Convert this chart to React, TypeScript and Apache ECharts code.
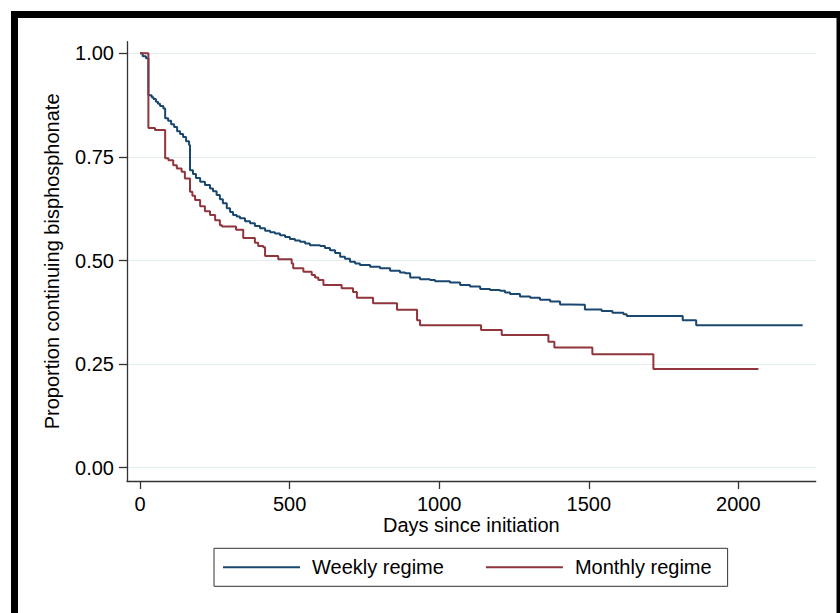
import React, { useEffect, useRef } from "react";
import * as echarts from "echarts";

// Kaplan-Meier step points (day at which value starts, proportion)
const weeklyDays = [0, 9, 20, 28, 39, 45, 53, 60, 67, 78, 84, 94, 104, 114, 124, 134, 144, 154, 164, 167, 177, 187, 201, 217, 234, 244, 256, 267, 277, 290, 301, 311, 323, 334, 351, 368, 384, 401, 418, 435, 451, 468, 485, 501, 518, 535, 552, 568, 602, 618, 635, 652, 669, 685, 702, 719, 735, 769, 802, 836, 869, 886, 903, 936, 969, 986, 1036, 1070, 1103, 1137, 1170, 1203, 1220, 1237, 1270, 1304, 1337, 1371, 1404, 1437, 1487, 1543, 1579, 1616, 1627, 1814, 1859, 2215];
const weeklySurv = [1.0, 0.993, 0.988, 0.899, 0.894, 0.89, 0.883, 0.878, 0.873, 0.867, 0.843, 0.837, 0.829, 0.822, 0.812, 0.805, 0.798, 0.788, 0.779, 0.718, 0.709, 0.699, 0.69, 0.682, 0.674, 0.667, 0.658, 0.648, 0.638, 0.626, 0.617, 0.61, 0.606, 0.602, 0.595, 0.59, 0.583, 0.578, 0.572, 0.568, 0.565, 0.561, 0.557, 0.552, 0.548, 0.545, 0.541, 0.537, 0.535, 0.53, 0.525, 0.518, 0.509, 0.504, 0.497, 0.493, 0.489, 0.485, 0.481, 0.475, 0.471, 0.469, 0.459, 0.455, 0.453, 0.45, 0.447, 0.441, 0.437, 0.431, 0.429, 0.427, 0.423, 0.419, 0.413, 0.41, 0.405, 0.401, 0.394, 0.393, 0.382, 0.378, 0.374, 0.37, 0.366, 0.356, 0.344, 0.344];

const monthlyDays = [0, 28, 50, 84, 95, 111, 123, 139, 150, 167, 175, 184, 201, 217, 234, 251, 267, 274, 321, 345, 384, 395, 412, 418, 462, 507, 512, 546, 574, 585, 596, 613, 674, 712, 725, 779, 859, 926, 936, 1140, 1209, 1365, 1385, 1512, 1716, 2067];
const monthlySurv = [1.0, 0.82, 0.815, 0.747, 0.742, 0.73, 0.722, 0.714, 0.698, 0.666, 0.656, 0.646, 0.631, 0.619, 0.61, 0.597, 0.585, 0.582, 0.574, 0.554, 0.543, 0.535, 0.532, 0.511, 0.503, 0.493, 0.481, 0.473, 0.465, 0.459, 0.453, 0.441, 0.433, 0.424, 0.41, 0.397, 0.381, 0.356, 0.344, 0.332, 0.32, 0.304, 0.29, 0.274, 0.238, 0.238];

const xTickValues = [0, 500, 1000, 1500, 2000];
const yTickValues = [0, 0.25, 0.5, 0.75, 1];
const seriesNames = ["Weekly regime", "Monthly regime"];
const xAxisTitle = "Days since initiation";
const yAxisTitle = "Proportion continuing bisphosphonate";

export default function App() {
  const ref = useRef<HTMLDivElement>(null);
  useEffect(() => {
    const chart = echarts.init(ref.current!, null, { renderer: "svg" });
    const font = "'Liberation Sans', Arial, sans-serif";
    const axisColor = "#333333";
    chart.setOption({
      animation: false,
      backgroundColor: "#ffffff",
      textStyle: { fontFamily: font },
      grid: {
        left: 127,
        right: 24.3,
        top: 41.7,
        bottom: 132,
        containLabel: false,
        outerBoundsMode: "none",
      },
      xAxis: {
        type: "value",
        min: -43.5,
        max: 2258.5,
        name: xAxisTitle,
        nameLocation: "middle",
        nameGap: 34,
        nameMoveOverlap: false,
        nameTextStyle: { fontSize: 20, color: "#000", fontFamily: font },
        axisLine: { show: true, onZero: false, lineStyle: { color: axisColor, width: 1.3 } },
        axisTick: { show: true, inside: false, length: 8, customValues: xTickValues, lineStyle: { color: axisColor, width: 1.3 } },
        axisLabel: {
          show: true,
          customValues: xTickValues,
          formatter: (v: number) => String(v),
          margin: 13,
          fontSize: 20,
          color: "#000",
          fontFamily: font,
        },
        splitLine: { show: false },
      },
      yAxis: {
        type: "value",
        min: -0.0321,
        max: 1.028,
        name: yAxisTitle,
        nameLocation: "middle",
        nameGap: 65,
        nameMoveOverlap: false,
        nameTextStyle: { fontSize: 20, color: "#000", fontFamily: font },
        axisLine: { show: true, onZero: false, lineStyle: { color: axisColor, width: 1.3 } },
        axisTick: { show: true, inside: false, length: 8, customValues: yTickValues, lineStyle: { color: axisColor, width: 1.3 } },
        axisLabel: {
          show: true,
          customValues: yTickValues,
          formatter: (v: number) => v.toFixed(2),
          margin: 13,
          fontSize: 20,
          color: "#000",
          fontFamily: font,
        },
        splitLine: { show: true, lineStyle: { color: "#e3edf0", width: 1 } },
      },
      legend: {
        data: seriesNames,
        left: 214,
        top: 548.3,
        orient: "horizontal",
        padding: [9, 16, 9, 9],
        itemGap: 42,
        itemWidth: 77,
        itemHeight: 2,
        icon: "rect",
        borderColor: "#333",
        borderWidth: 1,
        borderRadius: 0,
        backgroundColor: "#fff",
        textStyle: { fontSize: 20, color: "#000", fontFamily: font, padding: [0, 0, 0, 7] },
      },
      graphic: [
        { type: "rect", silent: true, shape: { x: 11, y: 11, width: 829, height: 7 }, style: { fill: "#000" } },
        { type: "rect", silent: true, shape: { x: 11, y: 11, width: 7, height: 602 }, style: { fill: "#000" } },
        { type: "rect", silent: true, shape: { x: 836.5, y: 11, width: 3.5, height: 602 }, style: { fill: "#000" } },
      ],
      series: [
        {
          name: seriesNames[0],
          type: "line",
          step: "end",
          symbol: "none",
          showSymbol: false,
          data: weeklyDays.map((d, i) => [d, weeklySurv[i]]),
          lineStyle: { color: "#1a476f", width: 2 },
          itemStyle: { color: "#1a476f" },
        },
        {
          name: seriesNames[1],
          type: "line",
          step: "end",
          symbol: "none",
          showSymbol: false,
          data: monthlyDays.map((d, i) => [d, monthlySurv[i]]),
          lineStyle: { color: "#90353b", width: 2 },
          itemStyle: { color: "#90353b" },
        },
      ],
    });
    return () => chart.dispose();
  }, []);
  return <div ref={ref} style={{ position: "fixed", left: 0, top: 0, width: 840, height: 613 }} />;
}
